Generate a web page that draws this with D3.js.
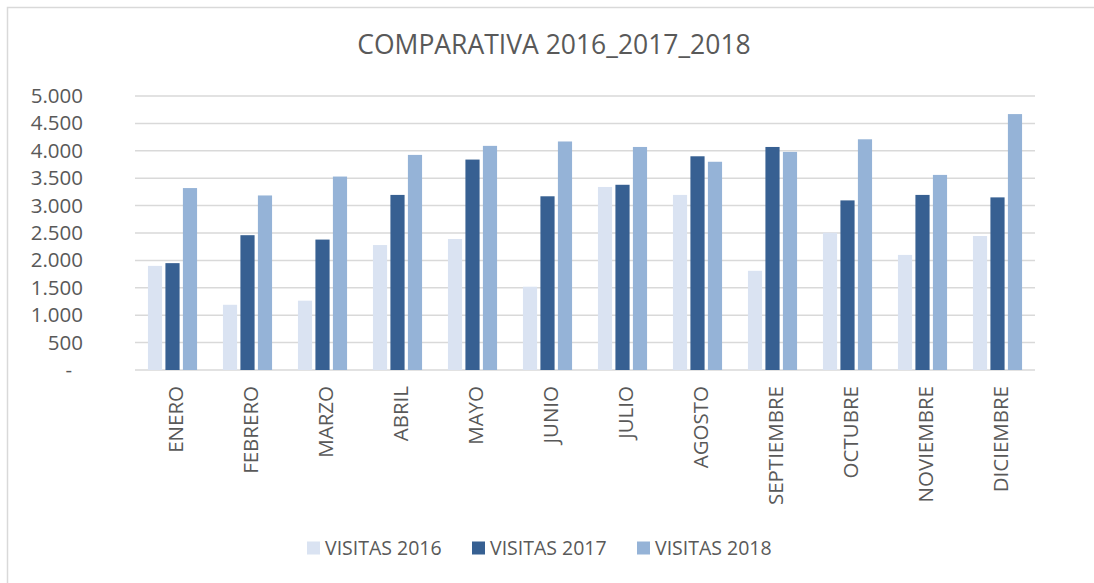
<!DOCTYPE html>
<html>
<head>
<meta charset="utf-8">
<script src="https://cdn.jsdelivr.net/npm/d3@7"></script>
<style>
	html, body { margin: 0; padding: 0; background: #fff; overflow: hidden; }
	svg { display: block; }
	svg text { font-family: "Open Sans", "Noto Sans", sans-serif; fill: #595959; }
</style>
</head>
<body>
<svg id="chart" width="1094" height="583"></svg>
<script>
var months = ["ENERO", "FEBRERO", "MARZO", "ABRIL", "MAYO", "JUNIO", "JULIO", "AGOSTO", "SEPTIEMBRE", "OCTUBRE", "NOVIEMBRE", "DICIEMBRE"];
var seriesNames = ["VISITAS 2016", "VISITAS 2017", "VISITAS 2018"];
var visitas2016 = [1900, 1190, 1265, 2280, 2390, 1520, 3340, 3195, 1810, 2505, 2100, 2445];
var visitas2017 = [1950, 2460, 2380, 3195, 3840, 3170, 3380, 3900, 4070, 3095, 3195, 3150];
var visitas2018 = [3320, 3185, 3530, 3925, 4090, 4170, 4070, 3800, 3980, 4210, 3560, 4670];
var yTicks = [0, 500, 1000, 1500, 2000, 2500, 3000, 3500, 4000, 4500, 5000];
var colors = ["#dae3f2", "#376092", "#95b3d7"];

var series = [visitas2016, visitas2017, visitas2018];
var rows = months.map(function(month, i) {
	return { month: month, values: series.map(function(s) { return s[i]; }) };
});

var svg = d3.select("#chart");
var width = 1094, height = 583;
var margin = {top: 96, right: 59, bottom: 213, left: 135};
var innerWidth = width - margin.left - margin.right,
	innerHeight = height - margin.top - margin.bottom;

// chart area border, only left & top edges fall inside the picture
svg.append("path")
	.attr("d", "M7.5," + height + "V7.5H" + width)
	.attr("fill", "none")
	.attr("stroke", "#d9d9d9")
	.attr("stroke-width", 1.5);

svg.append("text")
	.attr("x", 554)
	.attr("y", 54)
	.attr("text-anchor", "middle")
	.style("font-size", "26.5px")
	.text("COMPARATIVA 2016_2017_2018");

var x0 = d3.scaleBand()
	.domain(months)
	.range([0, innerWidth])
	.paddingInner(0.345)
	.paddingOuter(0.1725);

var x1 = d3.scaleBand()
	.domain(d3.range(seriesNames.length))
	.range([0, x0.bandwidth()])
	.paddingInner(0.19);

var y = d3.scaleLinear()
	.domain([0, 5000])
	.range([innerHeight, 0]);

var g = svg.append("g")
	.attr("transform", "translate(" + margin.left + "," + margin.top + ")");

// gridlines (the zero line is the category axis too)
g.append("g").attr("class", "grid")
	.selectAll("line")
	.data(yTicks)
	.enter().append("line")
	.attr("x1", 0)
	.attr("x2", innerWidth)
	.attr("y1", function(d) { return y(d); })
	.attr("y2", function(d) { return y(d); })
	.attr("stroke", "#d9d9d9")
	.attr("stroke-width", 1.5);

// y axis labels, excel accounting format: thousands with a dot, zero as a dash
var fmt = d3.formatLocale({ decimal: ",", thousands: ".", grouping: [3], currency: ["", ""] }).format(",d");
var yAxis = d3.axisLeft(y)
	.tickValues(yTicks)
	.tickSize(0)
	.tickPadding(0)
	.tickFormat(function(d) { return d === 0 ? "-" : fmt(d); });

var yg = g.append("g")
	.attr("transform", "translate(-52,0)")
	.call(yAxis);
yg.select(".domain").remove();
yg.selectAll("text")
	.style("font-size", "20.5px")
	.attr("fill", "#595959")
	.attr("font-family", null)
	.attr("dx", function(d) { return d === 0 ? -11 : 0; });

// bars
var groups = g.append("g").attr("class", "bars")
	.selectAll("g")
	.data(rows)
	.enter().append("g")
	.attr("transform", function(d) { return "translate(" + x0(d.month) + ",0)"; });

groups.selectAll("rect")
	.data(function(d) { return d.values; })
	.enter().append("rect")
	.attr("x", function(d, i) { return x1(i); })
	.attr("y", function(d) { return y(d); })
	.attr("width", x1.bandwidth())
	.attr("height", function(d) { return innerHeight - y(d); })
	.attr("fill", function(d, i) { return colors[i]; });

// category labels, rotated
var xAxis = d3.axisBottom(x0).tickSize(0).tickPadding(0);
var xg = g.append("g")
	.attr("transform", "translate(0," + innerHeight + ")")
	.call(xAxis);
xg.select(".domain").remove();
xg.selectAll("text")
	.attr("fill", "#595959")
	.attr("font-family", null)
	.style("font-size", "20.5px")
	.attr("text-anchor", "end")
	.attr("transform", "translate(3,16) rotate(-90)")
	.attr("x", 0)
	.attr("y", 0)
	.attr("dy", "0.36em");

// legend
var legend = svg.append("g").attr("class", "legend")
	.selectAll("g")
	.data(seriesNames)
	.enter().append("g")
	.attr("transform", function(d, i) { return "translate(" + (307 + i * 165) + ",548)"; });

legend.append("rect")
	.attr("x", 0).attr("y", -6.5)
	.attr("width", 13).attr("height", 13)
	.attr("fill", function(d, i) { return colors[i]; });

legend.append("text")
	.attr("x", 18)
	.attr("dy", "0.36em")
	.style("font-size", "19.5px")
	.text(function(d) { return d; });
</script>
</body>
</html>
